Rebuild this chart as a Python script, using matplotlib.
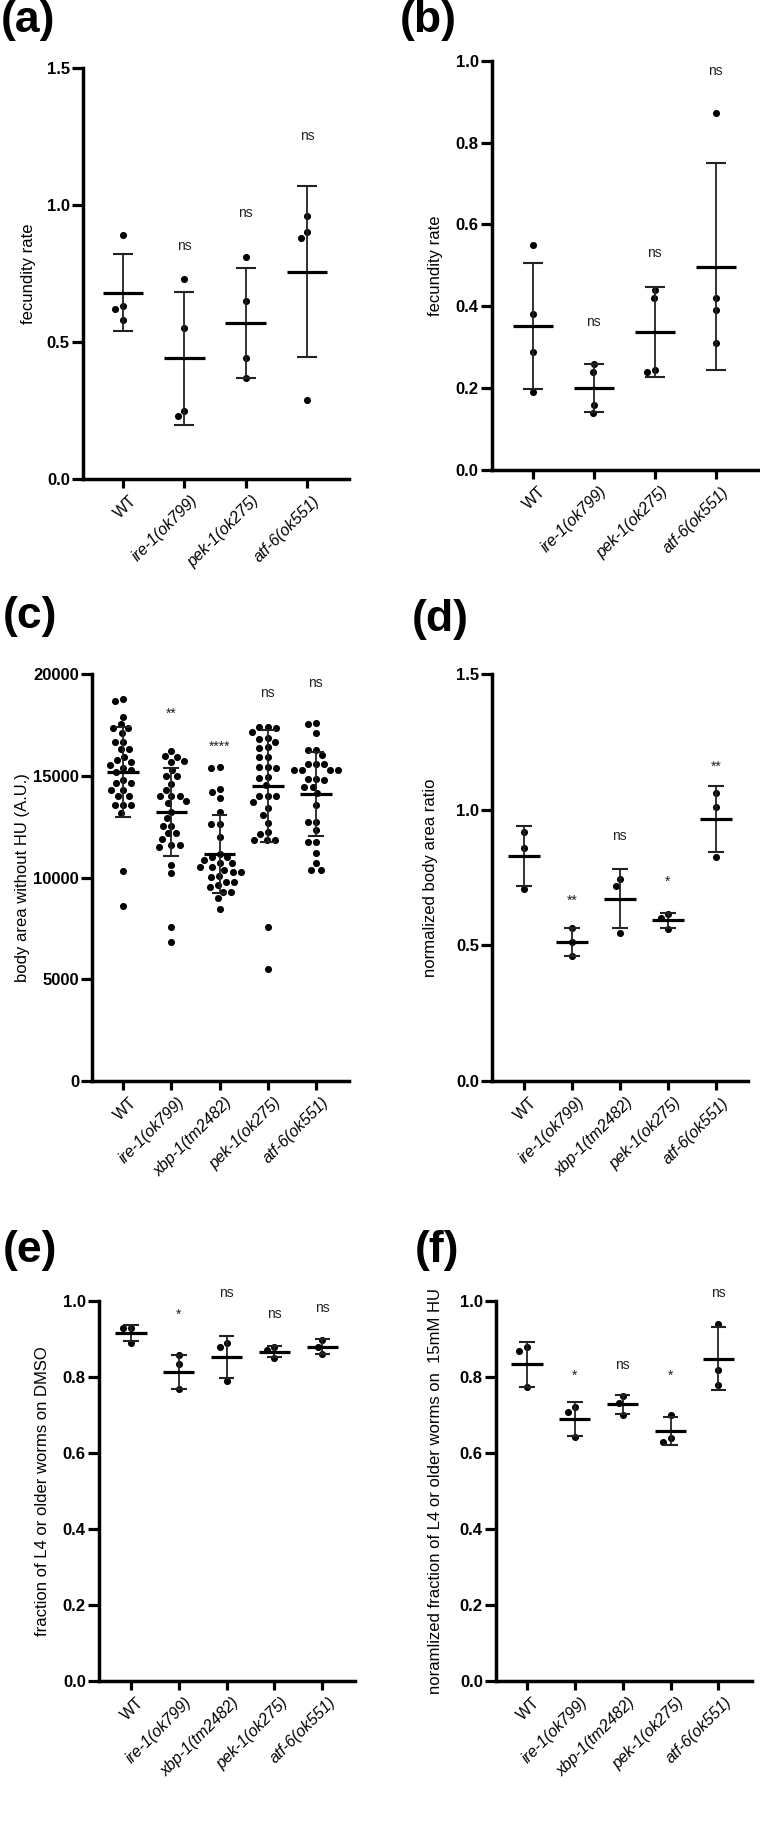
import matplotlib
matplotlib.use('Agg')
import matplotlib.pyplot as plt
import numpy as np
from matplotlib import font_manager
from matplotlib.transforms import offset_copy

plt.rcParams['font.family'] = ['Liberation Sans', 'DejaVu Sans']

# ---------------- data ----------------
cats4 = ['WT', 'ire-1(ok799)', 'pek-1(ok275)', 'atf-6(ok551)']
cats5 = ['WT', 'ire-1(ok799)', 'xbp-1(tm2482)', 'pek-1(ok275)', 'atf-6(ok551)']

# (a) fecundity rate
a_points = [[0.89, 0.63, 0.62, 0.58],
            [0.73, 0.55, 0.25, 0.23],
            [0.81, 0.65, 0.44, 0.37],
            [0.96, 0.90, 0.88, 0.29]]
a_mean = [0.68, 0.44, 0.568, 0.757]
a_sd = [0.141, 0.242, 0.201, 0.313]
a_sig = ['', 'ns', 'ns', 'ns']
a_sig_y = [0, 0.85, 0.97, 1.25]

# (b) fecundity rate
b_points = [[0.55, 0.38, 0.289, 0.19],
            [0.26, 0.24, 0.16, 0.14],
            [0.44, 0.42, 0.245, 0.24],
            [0.871, 0.42, 0.39, 0.31]]
b_mean = [0.352, 0.200, 0.337, 0.497]
b_sd = [0.153, 0.059, 0.109, 0.253]
b_sig = ['', 'ns', 'ns', 'ns']
b_sig_y = [0, 0.36, 0.53, 0.973]

# (c) body area without HU (A.U.)
c_wt = [18770, 18690, 17920, 17540, 17380, 17370, 17100, 16690, 16680, 16310, 16300,
        15950, 15780, 15700, 15540, 15400, 15290, 15210, 14800, 14640, 14630, 14310,
        14300, 14020, 14010, 13580, 13570, 13560, 13190, 10320, 8600]
c_ire = [16230, 16000, 15950, 15750, 15700, 15300, 15000, 14990, 14590, 14310, 14020,
         14010, 14000, 13770, 13650, 13240, 12910, 12540, 12530, 12180, 12170, 11880,
         11600, 11590, 11520, 10620, 10210, 7580, 6850]
c_xbp = [15420, 15410, 14340, 14220, 13900, 13240, 12640, 12630, 11980, 11150, 11030,
         11020, 10850, 10700, 10690, 10530, 10520, 10370, 10290, 10280, 10050, 10040,
         9800, 9790, 9650, 9550, 9310, 9300, 8980, 8440]
c_pek = [17390, 17380, 17400, 17180, 16850, 16840, 16690, 16400, 16380, 15950, 15940,
         15430, 15420, 15410, 14930, 14920, 14540, 14010, 14000, 13990, 13730, 13400,
         13080, 12670, 12260, 12140, 11860, 11850, 11840, 7580, 5480]
c_atf = [17590, 17540, 17100, 16280, 16270, 16030, 15600, 15590, 15580, 15300, 15290,
         15280, 15270, 14840, 14830, 14820, 14470, 14460, 14140, 13570, 12750, 12740,
         12340, 11770, 11760, 11190, 10700, 10380, 10370]
c_points = [c_wt, c_ire, c_xbp, c_pek, c_atf]
c_mean = [15207, 13240, 11160, 14520, 14094]
c_sd = [2210, 2170, 1940, 2760, 2070]
c_sig = ['', '**', '****', 'ns', 'ns']
c_sig_y = [0, 18290, 16640, 19060, 19550]

# (d) normalized body area ratio
d_points = [[0.917, 0.860, 0.706],
            [0.565, 0.512, 0.461],
            [0.745, 0.719, 0.545],
            [0.616, 0.602, 0.559],
            [1.060, 1.010, 0.826]]
d_mean = [0.828, 0.512, 0.672, 0.592, 0.966]
d_sd = [0.110, 0.052, 0.108, 0.029, 0.122]
d_sig = ['', '**', 'ns', '*', '**']
d_sig_y = [0, 0.68, 0.902, 0.749, 1.174]

# (e) fraction of L4 or older worms on DMSO
e_points = [[0.930, 0.930, 0.891],
            [0.859, 0.835, 0.768],
            [0.891, 0.880, 0.791],
            [0.880, 0.871, 0.850],
            [0.898, 0.880, 0.860]]
e_mean = [0.917, 0.814, 0.854, 0.867, 0.880]
e_sd = [0.0205, 0.045, 0.055, 0.015, 0.020]
e_sig = ['', '*', 'ns', 'ns', 'ns']
e_sig_y = [0, 0.975, 1.021, 0.966, 0.981]

# (f) normalized fraction of L4 or older worms on 15mM HU
f_points = [[0.880, 0.870, 0.775],
            [0.721, 0.709, 0.642],
            [0.750, 0.731, 0.699],
            [0.700, 0.640, 0.630],
            [0.940, 0.820, 0.780]]
f_mean = [0.834, 0.690, 0.728, 0.657, 0.848]
f_sd = [0.060, 0.044, 0.025, 0.037, 0.083]
f_sig = ['', '*', 'ns', '*', 'ns']
f_sig_y = [0, 0.815, 0.830, 0.815, 1.021]

# ---------------- figure ----------------
W, H = 760, 1822
fig = plt.figure(figsize=(W / 100, H / 100), dpi=100)

names = {f.name for f in font_manager.fontManager.ttflist}
letter_font = 'Liberation Sans Narrow' if 'Liberation Sans Narrow' in names else 'Liberation Sans'


def add_axes(l, t, r, b):
    return fig.add_axes([l / W, 1 - b / H, (r - l) / W, (b - t) / H])


def swarm_offsets(vals, ax, D=8.2):
    p0 = ax.transData.transform((0, 0))
    p1 = ax.transData.transform((1, 1))
    sx = p1[0] - p0[0]
    sy = p1[1] - p0[1]
    ys = np.asarray(vals, dtype=float) * sy
    order = np.argsort(-ys, kind='stable')
    placed = []
    offs = np.zeros(len(ys))
    for i in order:
        y = ys[i]
        cands = [0.0]
        for (xj, yj) in placed:
            dy = abs(y - yj)
            if dy < D:
                dx = np.sqrt(D * D - dy * dy)
                cands += [xj - dx, xj + dx]
        cands = sorted(cands, key=lambda c: (round(abs(c), 6), c))
        chosen = 0.0
        for c in cands:
            if all((c - xj) ** 2 + (y - yj) ** 2 >= D * D - 1e-6 for xj, yj in placed):
                chosen = c
                break
        placed.append((chosen, y))
        offs[i] = chosen / sx
    return offs


def panel(box, xlim, ylim, yticks, yfmt, cats, pts, means, sds, sig, sig_y,
          ylabel, label_cx, letter, letter_xy):
    ax = add_axes(*box)
    ax.set_xlim(*xlim)
    ax.set_ylim(*ylim)
    for s in ['top', 'right']:
        ax.spines[s].set_visible(False)
    for s in ['left', 'bottom']:
        ax.spines[s].set_linewidth(2.5)
    ax.set_yticks(yticks)
    ax.set_yticklabels([yfmt(v) for v in yticks], fontweight='bold', fontsize=12)
    ax.tick_params(axis='y', length=8, width=2.3, pad=1.5)
    ax.tick_params(axis='x', length=6.5, width=2.3)
    x = np.arange(len(cats))
    ax.set_xticks(x)
    ax.set_xticklabels([''] * len(cats))
    tr = offset_copy(ax.get_xaxis_transform(), fig=fig, x=4, y=-10, units='points')
    for i, c in enumerate(cats):
        ax.text(i, 0, c, transform=tr, rotation=45, ha='right', va='top',
                rotation_mode='anchor', fontsize=11.5,
                style='normal' if c == 'WT' else 'italic')

    for i in range(len(cats)):
        offs = swarm_offsets(pts[i], ax)
        ax.scatter(i + offs, pts[i], s=26, color='black', zorder=3,
                   linewidths=0, clip_on=False)
        m, sd = means[i], sds[i]
        ax.vlines(i, m - sd, m + sd, color='#222222', lw=1.3, zorder=4)
        ax.hlines([m - sd, m + sd], i - 0.165, i + 0.165, color='#222222', lw=1.5, zorder=4)
        ax.hlines(m, i - 0.33, i + 0.33, color='black', lw=2.3, zorder=5)
        if sig[i]:
            star = sig[i].startswith('*')
            ttr = offset_copy(ax.transData, fig=fig, y=(-6.0 if star else -2.6), units='points')
            ax.text(i, sig_y[i], sig[i], transform=ttr, ha='center', va='baseline',
                    fontsize=10, color='#222222')

    ax.set_ylabel(ylabel, fontsize=12)
    l, t, r, b = box
    ax.yaxis.set_label_coords((label_cx + 8 - l) / (r - l), 0.5)
    fig.text(letter_xy[0] / W, 1 - letter_xy[1] / H, letter, fontsize=32,
             fontweight='bold', family=[letter_font, 'DejaVu Sans'],
             ha='left', va='top')
    return ax


fmt1 = lambda v: f'{v:.1f}'
fmt0 = lambda v: f'{int(v)}'

panel((83, 68, 349, 479), (-0.652, 3.685), (0, 1.5), [0, 0.5, 1.0, 1.5], fmt1,
      cats4, a_points, a_mean, a_sd, a_sig, a_sig_y, 'fecundity rate', 28, '(a)', (1, 0))
panel((491.7, 60.7, 759, 470), (-0.672, 3.71), (0, 1.0), [0, 0.2, 0.4, 0.6, 0.8, 1.0], fmt1,
      cats4, b_points, b_mean, b_sd, b_sig, b_sig_y, 'fecundity rate', 435, '(b)', (400, 0))
panel((92.3, 674.3, 349, 1080.7), (-0.644, 4.69), (0, 20000), [0, 5000, 10000, 15000, 20000], fmt0,
      cats5, c_points, c_mean, c_sd, c_sig, c_sig_y, 'body area without HU (A.U.)', 22, '(c)', (3, 596))
panel((492.3, 674, 748, 1081), (-0.654, 4.67), (0, 1.5), [0, 0.5, 1.0, 1.5], fmt1,
      cats5, d_points, d_mean, d_sd, d_sig, d_sig_y, 'normalized body area ratio', 430, '(d)', (412, 599))
panel((99, 1301.3, 355, 1680.7), (-0.662, 4.68), (0, 1.0), [0, 0.2, 0.4, 0.6, 0.8, 1.0], fmt1,
      cats5, e_points, e_mean, e_sd, e_sig, e_sig_y, 'fraction of L4 or older worms on DMSO', 42, '(e)', (3, 1230))
panel((496, 1301.3, 752, 1680.7), (-0.641, 4.70), (0, 1.0), [0, 0.2, 0.4, 0.6, 0.8, 1.0], fmt1,
      cats5, f_points, f_mean, f_sd, f_sig, f_sig_y, 'noramlized fraction of L4 or older worms on  15mM HU', 435, '(f)', (415, 1230))

fig.savefig('out.png', dpi=100)
